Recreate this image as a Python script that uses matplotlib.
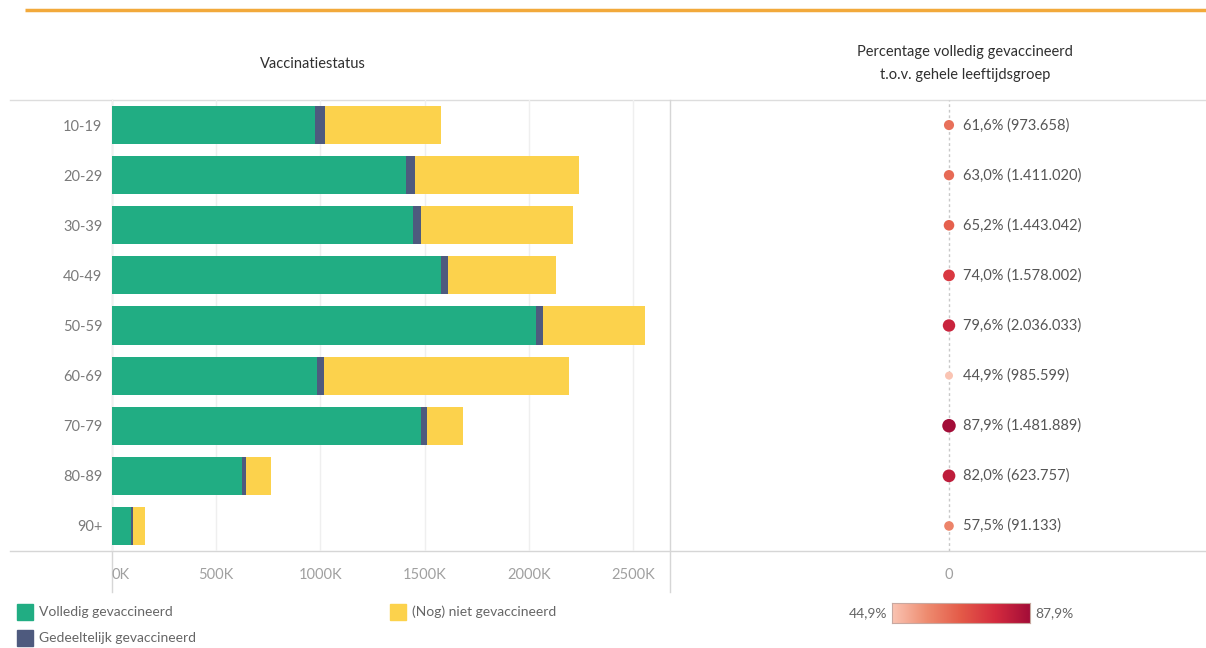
import numpy as np
import matplotlib
matplotlib.use("Agg")
import matplotlib.pyplot as plt
from matplotlib.colors import LinearSegmentedColormap, Normalize
from matplotlib.patches import Rectangle
from matplotlib.ticker import FuncFormatter

plt.rcParams['font.family'] = ['Lato', 'DejaVu Sans']

# ==============================================================================
# DATA
# ==============================================================================
groups = ['10-19', '20-29', '30-39', '40-49', '50-59', '60-69', '70-79', '80-89', '90+']
volledig = [973658, 1411020, 1443042, 1578002, 2036033, 985599, 1481889, 623757, 91133]
gedeeltelijk = [47000, 45000, 42000, 34000, 30000, 30000, 29000, 18000, 9000]
niet = [560000, 784000, 728000, 520000, 492000, 1179000, 175000, 119000, 58000]
pct_volledig = [61.6, 63.0, 65.2, 74.0, 79.6, 44.9, 87.9, 82.0, 57.5]
x_ticks = [0, 500000, 1000000, 1500000, 2000000, 2500000]

C_GREEN = '#21ad83'
C_NAVY = '#4e5a7e'
C_YELLOW = '#fcd24c'
GRAY_TXT = '#7a7a7a'

W, H = 1206, 648
fig = plt.figure(figsize=(W / 100, H / 100), dpi=100)


def px_axes(x0, y0, x1, y1):
    # pixel box (top-left origin) -> figure fraction rect
    return [x0 / W, 1 - y1 / H, (x1 - x0) / W, (y1 - y0) / H]


# background layer for frame lines, headers and legend
bg = fig.add_axes([0, 0, 1, 1])
bg.set_xlim(0, W)
bg.set_ylim(H, 0)
bg.axis('off')

bg.plot([25, W], [10, 10], color='#f2a93b', lw=2.5, solid_capstyle='butt')
bg.plot([10, W], [100, 100], color='#dddddd', lw=1)
bg.plot([10, W], [551, 551], color='#d6d6d6', lw=1)
bg.plot([112, 112], [100, 592], color='#d6d6d6', lw=1)
bg.plot([670, 670], [100, 592], color='#d6d6d6', lw=1)

bg.text(313, 64, 'Vaccinatiestatus', ha='center', va='center', fontsize=10.5, color='#2f2f2f')
bg.text(965, 52, 'Percentage volledig gevaccineerd', ha='center', va='center', fontsize=10.5, color='#2f2f2f')
bg.text(965, 75, 't.o.v. gehele leeftijdsgroep', ha='center', va='center', fontsize=10.5, color='#2f2f2f')

# ------------------------------------------------------------------ left panel
y = np.arange(len(groups))
ax = fig.add_axes(px_axes(112, 100, 670, 551))
ax.set_facecolor('none')
ax.barh(y, volledig, height=0.76, color=C_GREEN, zorder=3)
ax.barh(y, gedeeltelijk, left=volledig, height=0.76, color=C_NAVY, zorder=3)
left_niet = np.array(volledig) + np.array(gedeeltelijk)
ax.barh(y, niet, left=left_niet, height=0.76, color=C_YELLOW, zorder=3)

ax.set_ylim(len(groups) - 0.5, -0.5)
ax.set_xlim(0, 558 / 104.2 * 500000)
ax.set_xticks(x_ticks)
ax.xaxis.set_major_formatter(FuncFormatter(lambda v, p: f'{int(v / 1000)}K'))
ax.grid(axis='x', color='#efefef', lw=1, zorder=0)
ax.set_yticks(y)
ax.set_yticklabels(groups)
ax.tick_params(axis='y', length=0, pad=7, labelsize=10.5, labelcolor=GRAY_TXT)
ax.tick_params(axis='x', length=0, pad=12, labelsize=10.5, labelcolor='#a0a0a0')
ax.get_xticklabels()[0].set_ha('left')
for s in ax.spines.values():
    s.set_visible(False)

# ----------------------------------------------------------------- right panel
cmap = LinearSegmentedColormap.from_list(
    'reds', ['#fac4b3', '#ee8c70', '#e45a48', '#d42b3e', '#a30d38'])
norm = Normalize(min(pct_volledig), max(pct_volledig))

ax2 = fig.add_axes(px_axes(670, 100, W, 551))
ax2.set_facecolor('none')
ax2.set_xlim(-279 / 536, 1 - 279 / 536)
ax2.set_ylim(len(groups) - 0.5, -0.5)
ax2.axvline(0, color='#c8c8c8', lw=1, ls=(0, (2, 2)), zorder=1)
pv = np.array(pct_volledig)
diam = 8 + (pv - pv.min()) / (pv.max() - pv.min()) * 5.5
ax2.scatter(np.zeros(len(groups)), y, s=(diam * 0.72) ** 2,
            c=[cmap(norm(p)) for p in pct_volledig], zorder=3, linewidths=0)
for yi, p, v in zip(y, pct_volledig, volledig):
    lbl = f'{p:.1f}%'.replace('.', ',') + ' (' + f'{v:,}'.replace(',', '.') + ')'
    ax2.annotate(lbl, (0, yi), xytext=(10, 0), textcoords='offset points',
                 ha='left', va='center', fontsize=10.5, color='#555555')
ax2.set_xticks([0])
ax2.set_xticklabels(['0'])
ax2.set_yticks([])
ax2.tick_params(axis='x', length=0, pad=12, labelsize=10.5, labelcolor='#a0a0a0')
for s in ax2.spines.values():
    s.set_visible(False)

# ---------------------------------------------------------------------- legend
for (lx, ly, col, txt) in [(17, 612, C_GREEN, 'Volledig gevaccineerd'),
                           (17, 638, C_NAVY, 'Gedeeltelijk gevaccineerd'),
                           (390, 612, C_YELLOW, '(Nog) niet gevaccineerd')]:
    bg.add_patch(Rectangle((lx, ly - 8), 16, 16, color=col))
    bg.text(lx + 22, ly, txt, ha='left', va='center', fontsize=10, color='#666666')

cax = fig.add_axes(px_axes(892, 603, 1030, 623))
cax.imshow(np.linspace(0, 1, 256)[None, :], aspect='auto', cmap=cmap)
cax.set_xticks([])
cax.set_yticks([])
for s in cax.spines.values():
    s.set_color('#c8a8a0')
bg.text(887, 613, '44,9%', ha='right', va='center', fontsize=10, color='#666666')
bg.text(1035, 613, '87,9%', ha='left', va='center', fontsize=10, color='#666666')

fig.savefig('out.png', dpi=100)
